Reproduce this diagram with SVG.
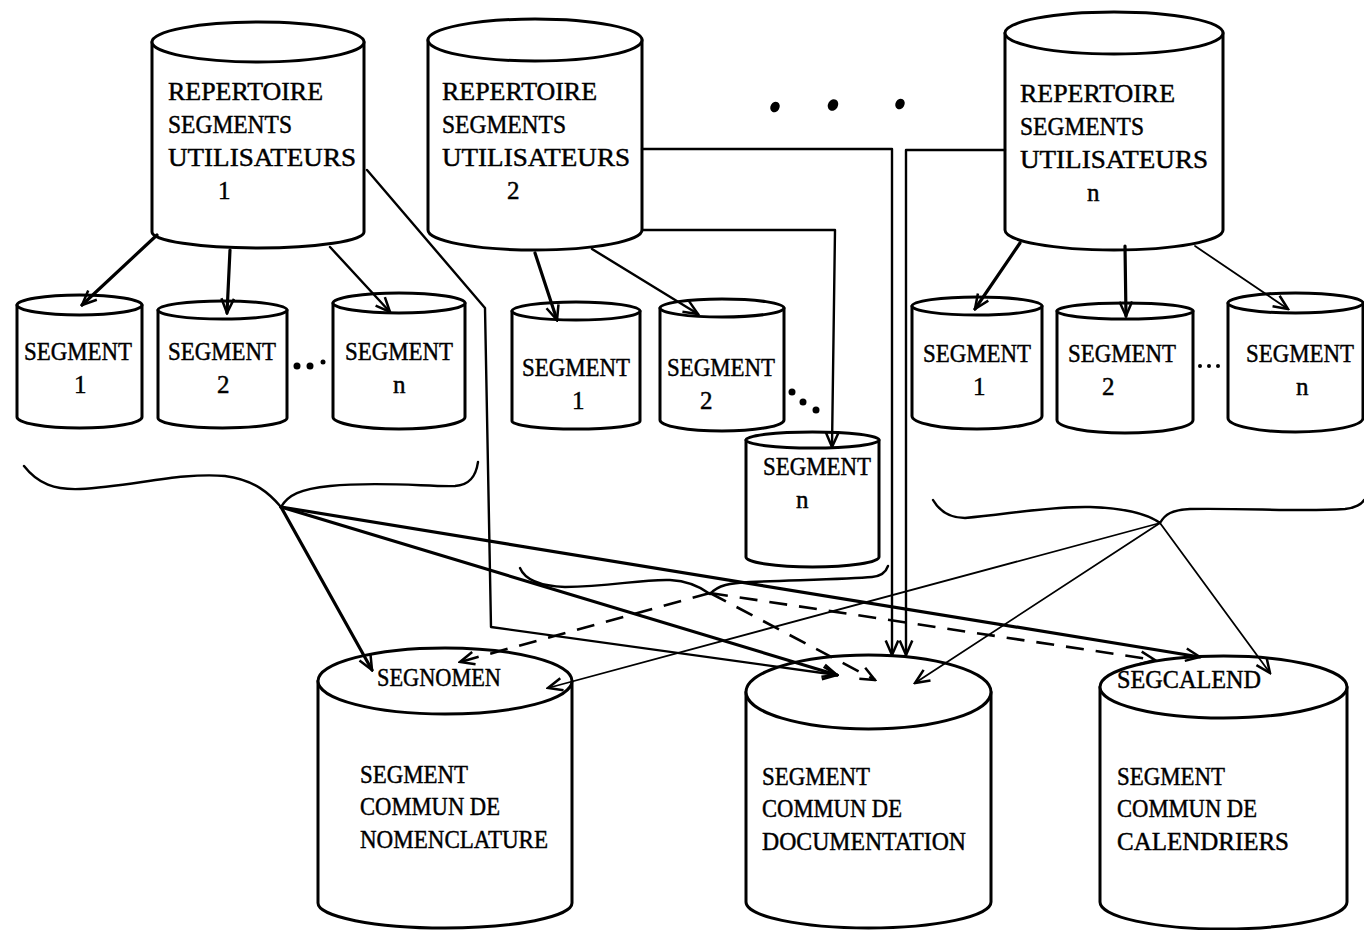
<svg xmlns="http://www.w3.org/2000/svg" width="1364" height="930" viewBox="0 0 1364 930">
<style>
.cyl{fill:#fff;stroke:#000;stroke-width:3;stroke-linejoin:round}
.t{font-family:"Liberation Serif","Times New Roman",serif;font-size:25px;fill:#000;stroke:#000;stroke-width:0.45}
.c{fill:none;stroke:#000;stroke-linecap:round;stroke-linejoin:round}
.k{stroke-width:3.2}
.m{stroke-width:2.4}
.f{stroke-width:1.8}
.d{stroke-width:2.6;stroke-dasharray:18 12;stroke-linecap:butt}
.b{fill:none;stroke:#000;stroke-width:2.4;stroke-linecap:round}
</style>
<defs>
<marker id="v" viewBox="0 0 20 20" refX="18" refY="10" markerWidth="18" markerHeight="18" markerUnits="userSpaceOnUse" orient="auto">
<path d="M2,3 L18,10 L2,17" fill="none" stroke="#000" stroke-width="2.8" stroke-linejoin="miter"/>
</marker>
</defs>
<rect width="1364" height="930" fill="#fff"/>

<g id="rep1">
<path class="cyl" d="M152,42 L152,232 A106,16 0 0 0 364,232 L364,42 Z"/>
<ellipse class="cyl" cx="258" cy="42" rx="106" ry="20"/>
<text class="t" x="168" y="100" textLength="155" lengthAdjust="spacingAndGlyphs">REPERTOIRE</text>
<text class="t" x="168" y="133" textLength="124" lengthAdjust="spacingAndGlyphs">SEGMENTS</text>
<text class="t" x="168" y="166" textLength="188" lengthAdjust="spacingAndGlyphs">UTILISATEURS</text>
<text class="t" x="218" y="199">1</text>
</g>
<g id="rep2">
<path class="cyl" d="M428,40 L428,230 A107,20 0 0 0 642,230 L642,40 Z"/>
<ellipse class="cyl" cx="535" cy="40" rx="107" ry="21"/>
<text class="t" x="442" y="100" textLength="155" lengthAdjust="spacingAndGlyphs">REPERTOIRE</text>
<text class="t" x="442" y="133" textLength="124" lengthAdjust="spacingAndGlyphs">SEGMENTS</text>
<text class="t" x="442" y="166" textLength="188" lengthAdjust="spacingAndGlyphs">UTILISATEURS</text>
<text class="t" x="507" y="199">2</text>
</g>
<g id="repn">
<path class="cyl" d="M1005,33 L1005,230 A109,20 0 0 0 1223,230 L1223,33 Z"/>
<ellipse class="cyl" cx="1114" cy="33" rx="109" ry="21"/>
<text class="t" x="1020" y="102" textLength="155" lengthAdjust="spacingAndGlyphs">REPERTOIRE</text>
<text class="t" x="1020" y="135" textLength="124" lengthAdjust="spacingAndGlyphs">SEGMENTS</text>
<text class="t" x="1020" y="168" textLength="188" lengthAdjust="spacingAndGlyphs">UTILISATEURS</text>
<text class="t" x="1087" y="201">n</text>
</g>

<g id="g1s1">
<path class="cyl" d="M17,305 L17,417 A62.5,11 0 0 0 142,417 L142,305 Z"/>
<ellipse class="cyl" cx="79.5" cy="305" rx="62.5" ry="10"/>
<text class="t" x="24" y="360" textLength="108" lengthAdjust="spacingAndGlyphs">SEGMENT</text>
<text class="t" x="74" y="393">1</text>
</g>
<g id="g1s2">
<path class="cyl" d="M158,310 L158,418 A64.5,10 0 0 0 287,418 L287,310 Z"/>
<ellipse class="cyl" cx="222.5" cy="310" rx="64.5" ry="9"/>
<text class="t" x="168" y="360" textLength="108" lengthAdjust="spacingAndGlyphs">SEGMENT</text>
<text class="t" x="217" y="393">2</text>
</g>
<g id="g1sn">
<path class="cyl" d="M333,303 L333,417 A66,12 0 0 0 465,417 L465,303 Z"/>
<ellipse class="cyl" cx="399" cy="303" rx="66" ry="10"/>
<text class="t" x="345" y="360" textLength="108" lengthAdjust="spacingAndGlyphs">SEGMENT</text>
<text class="t" x="393" y="393">n</text>
</g>

<g id="g2s1">
<path class="cyl" d="M512,311 L512,421 A64,8 0 0 0 640,421 L640,311 Z"/>
<ellipse class="cyl" cx="576" cy="311" rx="64" ry="9"/>
<text class="t" x="522" y="376" textLength="108" lengthAdjust="spacingAndGlyphs">SEGMENT</text>
<text class="t" x="572" y="409">1</text>
</g>
<g id="g2s2">
<path class="cyl" d="M660,308 L660,420 A62,11 0 0 0 784,420 L784,308 Z"/>
<ellipse class="cyl" cx="722" cy="308" rx="62" ry="9"/>
<text class="t" x="667" y="376" textLength="108" lengthAdjust="spacingAndGlyphs">SEGMENT</text>
<text class="t" x="700" y="409">2</text>
</g>
<g id="g2sn">
<path class="cyl" d="M746,440 L746,557 A66.5,10 0 0 0 879,557 L879,440 Z"/>
<ellipse class="cyl" cx="812.5" cy="440" rx="66.5" ry="8"/>
<text class="t" x="763" y="475" textLength="108" lengthAdjust="spacingAndGlyphs">SEGMENT</text>
<text class="t" x="796" y="508">n</text>
</g>

<g id="gns1">
<path class="cyl" d="M912,306 L912,416 A65,13 0 0 0 1042,416 L1042,306 Z"/>
<ellipse class="cyl" cx="977" cy="306" rx="65" ry="9"/>
<text class="t" x="923" y="362" textLength="108" lengthAdjust="spacingAndGlyphs">SEGMENT</text>
<text class="t" x="973" y="395">1</text>
</g>
<g id="gns2">
<path class="cyl" d="M1057,311 L1057,420 A68,13 0 0 0 1193,420 L1193,311 Z"/>
<ellipse class="cyl" cx="1125" cy="311" rx="68" ry="8"/>
<text class="t" x="1068" y="362" textLength="108" lengthAdjust="spacingAndGlyphs">SEGMENT</text>
<text class="t" x="1102" y="395">2</text>
</g>
<g id="gnsn">
<path class="cyl" d="M1228,303 L1228,418 A67.5,14 0 0 0 1363,418 L1363,303 Z"/>
<ellipse class="cyl" cx="1295.5" cy="303" rx="67.5" ry="10"/>
<text class="t" x="1246" y="362" textLength="108" lengthAdjust="spacingAndGlyphs">SEGMENT</text>
<text class="t" x="1296" y="395">n</text>
</g>

<g id="nomen">
<path class="cyl" d="M318,681 L318,903 A127,25 0 0 0 572,903 L572,681 Z"/>
<ellipse class="cyl" cx="445" cy="681" rx="127" ry="33"/>
<text class="t" x="377" y="686" textLength="124" lengthAdjust="spacingAndGlyphs">SEGNOMEN</text>
<text class="t" x="360" y="783" textLength="108" lengthAdjust="spacingAndGlyphs">SEGMENT</text>
<text class="t" x="360" y="815" textLength="140" lengthAdjust="spacingAndGlyphs">COMMUN DE</text>
<text class="t" x="360" y="848" textLength="188" lengthAdjust="spacingAndGlyphs">NOMENCLATURE</text>
</g>
<g id="doc">
<path class="cyl" d="M746,692 L746,902 A122.5,26 0 0 0 991,902 L991,692 Z"/>
<ellipse class="cyl" cx="868.5" cy="692" rx="122.5" ry="37"/>
<text class="t" x="762" y="785" textLength="108" lengthAdjust="spacingAndGlyphs">SEGMENT</text>
<text class="t" x="762" y="817" textLength="140" lengthAdjust="spacingAndGlyphs">COMMUN DE</text>
<text class="t" x="762" y="850" textLength="204" lengthAdjust="spacingAndGlyphs">DOCUMENTATION</text>
</g>
<g id="calend">
<path class="cyl" d="M1100,687 L1100,902 A123.5,27 0 0 0 1347,902 L1347,687 Z"/>
<ellipse class="cyl" cx="1223.5" cy="687" rx="123.5" ry="31"/>
<text class="t" x="1117" y="688" textLength="144" lengthAdjust="spacingAndGlyphs">SEGCALEND</text>
<text class="t" x="1117" y="785" textLength="108" lengthAdjust="spacingAndGlyphs">SEGMENT</text>
<text class="t" x="1117" y="817" textLength="140" lengthAdjust="spacingAndGlyphs">COMMUN DE</text>
<text class="t" x="1117" y="850" textLength="172" lengthAdjust="spacingAndGlyphs">CALENDRIERS</text>
</g>

<g id="ellipsis">
<ellipse cx="775" cy="107" rx="4.5" ry="5.5" transform="rotate(30 775 107)"/>
<ellipse cx="833" cy="105" rx="5" ry="6" transform="rotate(30 833 105)"/>
<ellipse cx="900" cy="104" rx="4.5" ry="5.5" transform="rotate(30 900 104)"/>
<circle cx="297" cy="366" r="3.5"/>
<circle cx="310" cy="366" r="3.5"/>
<circle cx="323" cy="362" r="2.5"/>
<circle cx="792" cy="392" r="3.5"/>
<circle cx="803" cy="402" r="3.5"/>
<circle cx="816" cy="410" r="3.5"/>
<circle cx="1200" cy="366" r="2"/>
<circle cx="1209" cy="366" r="2"/>
<circle cx="1218" cy="366" r="2"/>
</g>

<g id="braces">
<path class="b" d="M24,466 C38,484 55,490 80,489 C130,487 180,472 225,476 C255,480 270,494 281,507 C288,495 300,489 330,486 C380,481 430,487 455,486 C470,485 476,476 478,462"/>
<path class="b" d="M520,568 C525,580 540,586 565,587 C610,587 640,579 670,580 C690,581 702,588 710,594 C718,585 730,583 750,582 C800,580 850,579 872,577 C882,576 886,572 888,566"/>
<path class="b" d="M933,500 C940,512 950,518 965,518 C1010,514 1050,506 1090,507 C1120,508 1145,512 1160,523 C1165,514 1172,510 1190,509 C1250,508 1300,512 1345,509 C1355,508 1362,504 1364,500"/>
</g>

<g id="connectors">
<path class="c k" d="M157,235 L82,305" marker-end="url(#v)"/>
<path class="c k" d="M230,250 L227,313" marker-end="url(#v)"/>
<path class="c m" d="M330,247 L390,312" marker-end="url(#v)"/>
<path class="c k" d="M535,253 L557,320" marker-end="url(#v)"/>
<path class="c m" d="M592,249 L698,314" marker-end="url(#v)"/>
<path class="c k" d="M1020,243 L975,309" marker-end="url(#v)"/>
<path class="c k" d="M1125,246 L1126,316" marker-end="url(#v)"/>
<path class="c f" d="M1195,246 L1288,309" marker-end="url(#v)"/>
<path class="c m" d="M642,230 L835,230 L832,447" marker-end="url(#v)"/>
<path class="c m" d="M642,149 L892,149 L892,655" marker-end="url(#v)"/>
<path class="c m" d="M1005,150 L906,150 L906,655" marker-end="url(#v)"/>
<path class="c m" d="M367,170 L485,308 L491,627 L837,675" marker-end="url(#v)"/>
<path class="c k" d="M281,507 L372,670" marker-end="url(#v)"/>
<path class="c k" d="M281,507 L837,675" marker-end="url(#v)"/>
<path class="c k" d="M281,507 L1200,657" marker-end="url(#v)"/>
<path class="c d" d="M710,593 L460,662" marker-end="url(#v)"/>
<path class="c d" d="M710,593 L875,680" marker-end="url(#v)"/>
<path class="c d" d="M710,593 L1155,660" marker-end="url(#v)"/>
<path class="c f" d="M1160,523 L548,688" marker-end="url(#v)"/>
<path class="c f" d="M1160,523 L915,683" marker-end="url(#v)"/>
<path class="c f" d="M1160,523 L1270,673" marker-end="url(#v)"/>
</g>
</svg>
